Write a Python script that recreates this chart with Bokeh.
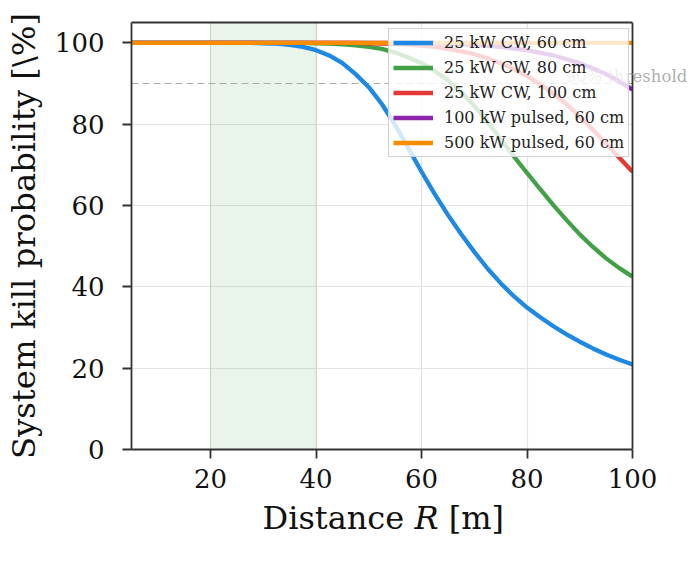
from bokeh.plotting import figure
from bokeh.models import (Span, Label, BoxAnnotation, Legend, LegendItem, FixedTicker,
                          Title, LinearAxis)
from bokeh.embed import file_html
from bokeh.resources import INLINE

# ---- data ----
distance = [5, 7.5, 10, 12.5, 15, 17.5, 20, 22.5, 25, 27.5, 30, 32.5, 35, 37.5, 40,
            42.5, 45, 47.5, 50, 52.5, 55, 57.5, 60, 62.5, 65, 67.5, 70, 72.5, 75,
            77.5, 80, 82.5, 85, 87.5, 90, 92.5, 95, 97.5, 100]

cw25_60 = [100, 100, 100, 100, 100, 100, 100, 100, 100, 100, 99.9, 99.8, 99.5, 99.0, 98.2,
           96.9, 95.0, 92.3, 89.1, 84.9, 79.8, 74.1, 68.3, 62.8, 57.7, 53.0, 48.6, 44.5, 40.9,
           37.7, 34.9, 32.5, 30.3, 28.3, 26.5, 24.85, 23.35, 22.05, 20.9]

cw25_80 = [100, 100, 100, 100, 100, 100, 100, 100, 100, 100, 100, 100, 100, 100, 99.9,
           99.8, 99.65, 99.4, 99.0, 98.5, 97.6, 96.4, 95.0, 93.1, 90.8, 87.9, 84.5, 80.6, 76.3,
           72.1, 68.0, 64.0, 60.1, 56.4, 52.9, 49.8, 47.0, 44.6, 42.5]

cw25_100 = [100, 100, 100, 100, 100, 100, 100, 100, 100, 100, 100, 100, 100, 100, 100,
            100, 100, 100, 99.9, 99.84, 99.74, 99.56, 99.3, 99.0, 98.5, 97.9, 97.2, 96.2, 95.0,
            93.5, 91.8, 89.8, 87.5, 84.9, 81.9, 78.6, 75.2, 71.75, 68.3]

pulsed100_60 = [100, 100, 100, 100, 100, 100, 100, 100, 100, 100, 100, 100, 100, 100, 100,
                100, 100, 100, 100, 100, 100, 100, 99.9, 99.85, 99.8, 99.65, 99.5, 99.25, 99.0,
                98.6, 98.2, 97.55, 96.9, 95.95, 95.0, 93.7, 92.3, 90.5, 88.5]

pulsed500_60 = [100] * len(distance)

series_labels = ["25 kW CW, 60 cm", "25 kW CW, 80 cm", "25 kW CW, 100 cm",
                 "100 kW pulsed, 60 cm", "500 kW pulsed, 60 cm"]
series_values = [cw25_60, cw25_80, cw25_100, pulsed100_60, pulsed500_60]
series_colors = ["#1e88e5", "#43a047", "#e53935", "#8e24aa", "#fb8c00"]

band = [20, 40]
threshold = 90
threshold_label = "90% threshold"
threshold_label_x = 87.3
x_ticks = [20, 40, 60, 80, 100]
y_ticks = [0, 20, 40, 60, 80, 100]
x_lim = (5, 100)
y_lim = (0, 105)
x_title = "Distance 𝑅 [m]"
y_title = "System kill probability [\\%]"

SERIF = "DejaVu Serif"
SPINE = "#333333"

# layout: the axes box is 501 px for x_lim; the frame is widened so the
# threshold text may run past the right spine (as in the original)
AX_W = 501
FRAME_W = 558
FRAME_H = 427
x_end = x_lim[0] + (x_lim[1] - x_lim[0]) * FRAME_W / AX_W

p = figure(frame_width=FRAME_W, frame_height=FRAME_H,
           x_range=(x_lim[0], x_end), y_range=y_lim,
           output_backend="svg", toolbar_location=None,
           min_border_left=131, min_border_right=2,
           min_border_top=22, min_border_bottom=40)
p.background_fill_color = "white"
p.border_fill_color = "white"
p.outline_line_color = None

bottom_axis = p.below[0]
left_axis = p.left[0]

# band
p.add_layout(BoxAnnotation(left=band[0], right=band[1],
                           fill_color="#4caf50", fill_alpha=0.12,
                           line_color="#4caf50", line_alpha=0.18, line_width=1,
                           level="underlay"))

# threshold line
p.add_layout(Span(location=threshold, dimension="width", line_color="#aaaaaa",
                  line_width=1.2, line_dash="7 4", level="underlay"))

items = []
for lab, vals, col in zip(series_labels, series_values, series_colors):
    r = p.line(distance, vals, line_color=col, line_width=4.3)
    items.append(LegendItem(label=lab, renderers=[r]))

# blank out everything right of the axes box (matplotlib clips there)
p.add_layout(BoxAnnotation(left=x_lim[1], fill_color="white", fill_alpha=1.0,
                           line_color=None))

# right spine
p.add_layout(Span(location=x_lim[1], dimension="height",
                  line_color=SPINE, line_width=1.8))

# threshold text (allowed to run past the right spine)
p.add_layout(Label(x=threshold_label_x, y=threshold + 1.8, text=threshold_label,
                   text_font=SERIF, text_font_size="16.5px",
                   text_color="#8a8a8a", text_alpha=0.7,
                   text_baseline="alphabetic", text_align="left"))

legend = Legend(items=items, location=(257, 292),
                label_text_font=SERIF, label_text_font_size="16px",
                label_text_color="#222222",
                label_height=19, glyph_height=19, glyph_width=40,
                label_standoff=11, spacing=6, padding=4, margin=0,
                background_fill_color="white", background_fill_alpha=0.8,
                border_line_color="#cccccc", border_line_width=1.2,
                border_line_alpha=0.9)
p.add_layout(legend)

# grid
for g in (p.xgrid, p.ygrid):
    g.grid_line_color = "#e3e3e3"
    g.grid_line_width = 1.2
p.xgrid.ticker = FixedTicker(ticks=x_ticks)
p.ygrid.ticker = FixedTicker(ticks=y_ticks)

# top spine: a bare axis (no ticks, no labels) limited to the axes box
top_axis = LinearAxis(bounds=x_lim, ticker=FixedTicker(ticks=[]),
                      axis_line_color=SPINE, axis_line_width=1.8,
                      major_tick_line_color=None, minor_tick_line_color=None,
                      major_label_text_color=None)
p.add_layout(top_axis, "above")

# axes
bottom_axis.ticker = FixedTicker(ticks=x_ticks)
left_axis.ticker = FixedTicker(ticks=y_ticks)
bottom_axis.bounds = x_lim
left_axis.bounds = y_lim
left_axis.axis_label = y_title
for ax in (bottom_axis, left_axis):
    ax.axis_label_text_font = SERIF
    ax.axis_label_text_font_size = "32.3px"
    ax.axis_label_text_font_style = "normal"
    ax.axis_label_text_color = "#111111"
    ax.major_label_text_font = SERIF
    ax.major_label_text_font_size = "26px"
    ax.major_label_text_color = "#111111"
    ax.axis_line_color = SPINE
    ax.axis_line_width = 1.8
    ax.major_tick_line_color = SPINE
    ax.major_tick_line_width = 1.8
    ax.major_tick_out = 9
    ax.major_tick_in = 0
    ax.minor_tick_line_color = None
bottom_axis.major_label_standoff = 10
left_axis.major_label_standoff = 18
left_axis.axis_label_standoff = 9

# x-axis title, centred under the axes box (not under the widened frame)
p.add_layout(Title(text=x_title, align="left", offset=131,
                   text_font=SERIF, text_font_size="32px",
                   text_font_style="normal", text_color="#111111",
                   standoff=13), "below")

open("out.html", "w").write(file_html(p, INLINE))
